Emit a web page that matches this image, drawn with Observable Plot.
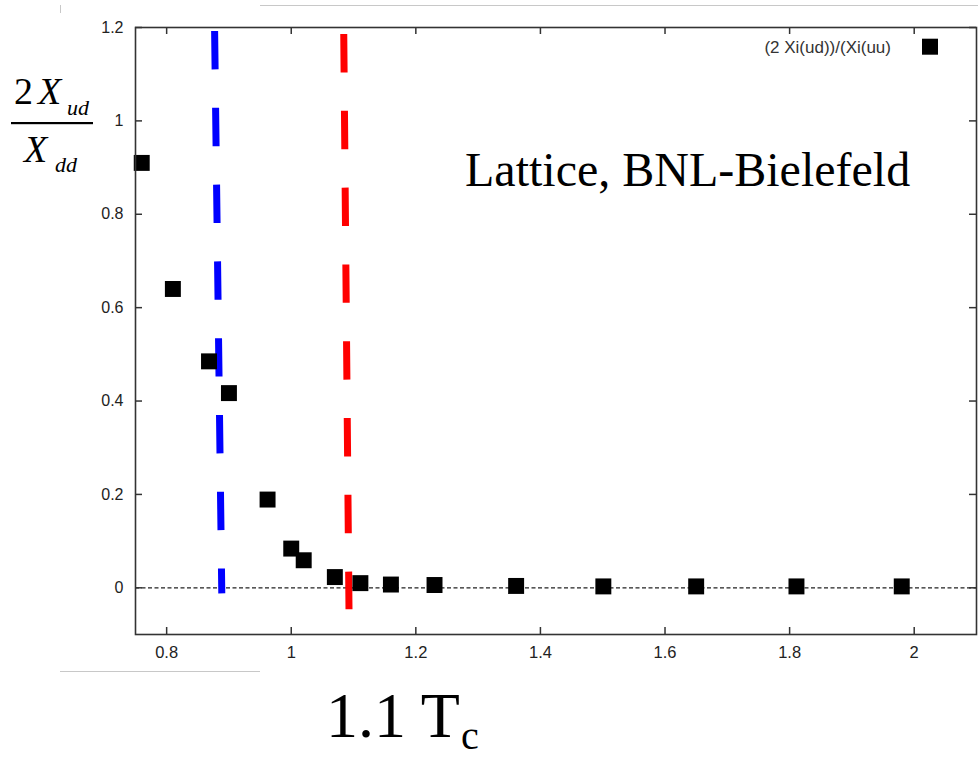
<!DOCTYPE html>
<html>
<head>
<meta charset="utf-8">
<script src="https://cdn.jsdelivr.net/npm/d3@7"></script>
<script src="https://cdn.jsdelivr.net/npm/@observablehq/plot@0.6"></script>
<style>
  html, body { margin: 0; padding: 0; background: #fff; }
  #wrap { position: relative; width: 978px; height: 759px; overflow: hidden; background: #fff; }
  #wrap > svg { position: absolute; left: 0; top: 0; }
  #overlay { pointer-events: none; }
  .seam { position: absolute; background: #c8c8c8; }
</style>
</head>
<body>
<div id="wrap"></div>
<script>
// ---- data ----
const temperature = [0.76, 0.81, 0.868, 0.90, 0.962, 1.0, 1.02, 1.07, 1.111, 1.16, 1.23, 1.361, 1.501, 1.650, 1.811, 1.980];
const ratio       = [0.91, 0.64, 0.485, 0.417, 0.189, 0.084, 0.059, 0.023, 0.010, 0.007, 0.006, 0.004, 0.003, 0.003, 0.003, 0.003];

const blueLineX = [0.877, 0.8885];
const blueLineY = [1.1925, -0.012];
const redLineX  = [1.0843, 1.0927];
const redLineY  = [1.186, -0.046];

const xTicks = [0.8, 1, 1.2, 1.4, 1.6, 1.8, 2];
const yTicks = [0, 0.2, 0.4, 0.6, 0.8, 1, 1.2];
const xDomain = [0.75, 2.1];
const yDomain = [-0.1, 1.2];

const legendLabel = "(2 Xi(ud))/(Xi(uu)";
const annotation = "Lattice, BNL-Bielefeld";

// ---- build tables ----
const points = temperature.map((t, i) => ({t, r: ratio[i]}));
const blueLine = blueLineX.map((x, i) => ({x, y: blueLineY[i]}));
const redLine = redLineX.map((x, i) => ({x, y: redLineY[i]}));

const W = 978, H = 759;
const mL = 135, mR = 2, mT = 27, mB = 125;
const plotW = W - mL - mR, plotH = H - mT - mB;
const tick = 7;
const axisColor = "#333";
const sans = "'Liberation Sans', Arial, sans-serif";

const chart = Plot.plot({
  width: W,
  height: H,
  marginLeft: mL,
  marginRight: mR,
  marginTop: mT,
  marginBottom: mB,
  style: {background: "#fff", fontFamily: sans},
  x: {domain: xDomain, axis: null},
  y: {domain: yDomain, axis: null},
  marks: [
    Plot.ruleY([0], {stroke: "#222", strokeWidth: 1.2, strokeDasharray: "4,2.5"}),
    Plot.line(blueLine, {x: "x", y: "y", stroke: "#0000ff", strokeWidth: 7, strokeDasharray: "38.4,38.4", strokeLinecap: "butt"}),
    Plot.line(redLine, {x: "x", y: "y", stroke: "#ff0000", strokeWidth: 7, strokeDasharray: "38.4,38.4", strokeLinecap: "butt"}),
    Plot.dot(points, {x: "t", y: "r", symbol: "square", r: 9, fill: "#000", stroke: "none"}),
    // inward ticks
    Plot.tickX(xTicks, {x: d => d, insetTop: plotH - tick, stroke: axisColor, strokeWidth: 1.5}),
    Plot.tickX(xTicks, {x: d => d, insetBottom: plotH - tick, stroke: axisColor, strokeWidth: 1.5}),
    Plot.tickY(yTicks, {y: d => d, insetRight: plotW - tick, stroke: axisColor, strokeWidth: 1.5}),
    Plot.tickY(yTicks, {y: d => d, insetLeft: plotW - tick, stroke: axisColor, strokeWidth: 1.5}),
    Plot.frame({stroke: axisColor, strokeWidth: 1.6}),
    // tick labels
    Plot.text(xTicks, {x: d => d, frameAnchor: "bottom", lineAnchor: "top", dy: 12, text: d => String(d), fontSize: 16.5, fill: "#222", fontFamily: sans}),
    Plot.text(yTicks, {y: d => d, frameAnchor: "left", textAnchor: "end", dx: -12, text: d => String(d), fontSize: 16, fill: "#222", fontFamily: sans})
  ]
});

const wrap = document.getElementById("wrap");
wrap.appendChild(chart);

// ---- annotations (text overlay) ----
const ns = "http://www.w3.org/2000/svg";
const ov = document.createElementNS(ns, "svg");
ov.setAttribute("id", "overlay");
ov.setAttribute("width", W);
ov.setAttribute("height", H);
function txt(s, x, y, size, opts = {}) {
  const t = document.createElementNS(ns, "text");
  t.textContent = s;
  t.setAttribute("x", x);
  t.setAttribute("y", y);
  t.setAttribute("font-size", size);
  t.setAttribute("font-family", opts.family || "'Liberation Serif', 'Times New Roman', serif");
  if (opts.italic) t.setAttribute("font-style", "italic");
  if (opts.anchor) t.setAttribute("text-anchor", opts.anchor);
  t.setAttribute("fill", opts.fill || "#000");
  ov.appendChild(t);
  return t;
}
// y label: 2 X_ud / X_dd
txt("2", 14, 104, 38);
txt("X", 38, 104, 38, {italic: true});
txt("ud", 67, 115, 22, {italic: true});
const bar = document.createElementNS(ns, "rect");
bar.setAttribute("x", 11); bar.setAttribute("y", 122);
bar.setAttribute("width", 82); bar.setAttribute("height", 2.2);
bar.setAttribute("fill", "#000");
ov.appendChild(bar);
txt("X", 24, 161.5, 38, {italic: true});
txt("dd", 55, 171.5, 22, {italic: true});

// annotation
txt(annotation, 465, 186, 48);

// x label: 1.1 T_c
txt("1.1 T", 326, 737, 64);
txt("c", 461, 749, 40);

// legend
txt(legendLabel, 891, 53, 17, {anchor: "end", family: sans, fill: "#333"});
const sq = document.createElementNS(ns, "rect");
sq.setAttribute("x", 922); sq.setAttribute("y", 38.7);
sq.setAttribute("width", 16); sq.setAttribute("height", 16);
sq.setAttribute("fill", "#000");
ov.appendChild(sq);
wrap.appendChild(ov);

// faint seam lines from the pasted original
function seam(l, t, w, h) {
  const d = document.createElement("div");
  d.className = "seam";
  d.style.left = l + "px"; d.style.top = t + "px";
  d.style.width = w + "px"; d.style.height = h + "px";
  wrap.appendChild(d);
}
seam(260, 5, 718, 1);
seam(60, 671, 200, 1);
seam(60, 5, 1, 8);
</script>
</body>
</html>
